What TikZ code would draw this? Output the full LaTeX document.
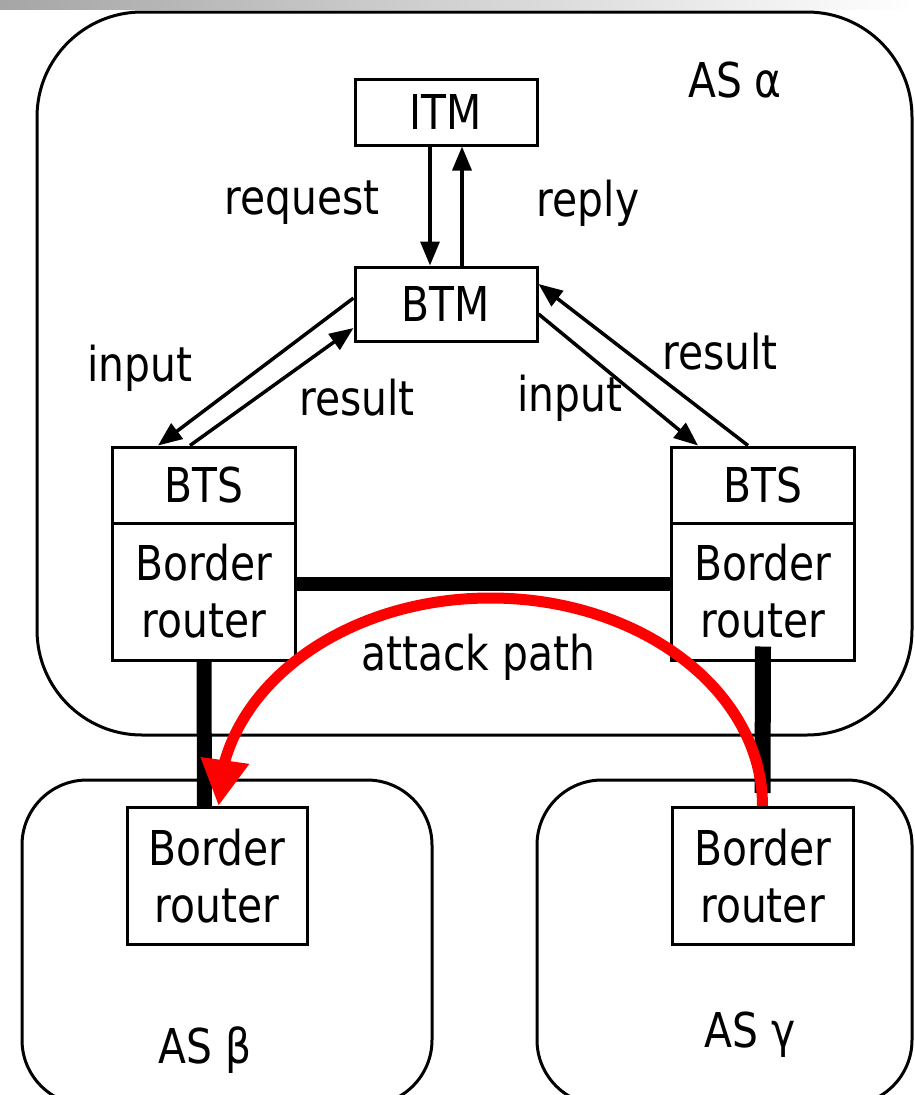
\documentclass[tikz,border=0pt]{standalone}
\usepackage{fontspec}
\setmainfont{DejaVu Sans}[FakeStretch=0.85]
\usetikzlibrary{arrows.meta,bending}
\begin{document}
\begin{tikzpicture}[x=1pt,y=-1pt,
  txt/.style={font=\fontsize{48}{57}\selectfont},
  box/.style={draw, line width=3pt, inner sep=0pt, txt, align=center},
  cont/.style={draw, line width=3pt, inner sep=0pt},
  lbl/.style={inner sep=0pt, txt},
  arr/.style={line width=3.5pt, -{Triangle[length=24pt,width=19pt]}},
  link/.style={line width=14pt},
  attack/.style={draw=red, line width=11pt, -{Triangle[length=46pt,width=46pt,fill=red,flex]}}]
\useasboundingbox (0,0) rectangle (915,1095);
\clip (0,0) rectangle (915,1095);
\shade[left color=black!35, right color=white] (0,0) rectangle (915,9);
% containers
\node[cont, rounded corners=105pt, minimum width=875pt, minimum height=723pt] (asA) at (474.5,373.5) {};
\node[cont, rounded corners=65pt, minimum width=410pt, minimum height=325pt] (asB) at (227,942.5) {};
\node[cont, rounded corners=65pt, minimum width=375pt, minimum height=325pt] (asG) at (724.5,942.5) {};
% boxes
\node[box, minimum width=182pt, minimum height=66pt] (itm) at (446,112) {ITM};
\node[box, minimum width=182pt, minimum height=74pt] (btm) at (446,304) {BTM};
\node[box, minimum width=183pt, minimum height=76pt] (btsL) at (204,485) {BTS};
\node[box, minimum width=183pt, minimum height=137pt] (brL) at (204,591.5) {Border\\router};
\node[box, minimum width=183pt, minimum height=76pt] (btsR) at (763,485) {BTS};
\node[box, minimum width=183pt, minimum height=137pt] (brR) at (763,591.5) {Border\\router};
\node[box, minimum width=180pt, minimum height=137pt] (rbeta) at (217,876) {Border\\router};
\node[box, minimum width=181pt, minimum height=137pt] (rgam) at (762.5,876) {Border\\router};
% labels
\node[lbl] (lA) at (735,80) {AS α};
\node[lbl] (lB) at (205,1050) {AS β};
\node[lbl] (lG) at (750,1035) {AS γ};
\node[lbl] (lreq) at (302,203) {request};
\node[lbl] (lrep) at (588,203) {reply};
\node[lbl] (linL) at (140,368) {input};
\node[lbl] (lresL) at (357,398) {result};
\node[lbl] (linR) at (570,398) {input};
\node[lbl] (lresR) at (720,352) {result};
\node[lbl] (latt) at (478,657) {attack path};
% arrows
\draw[arr] ([xshift=-16pt]itm.south) -- ([xshift=-16pt]btm.north);
\draw[arr] ([xshift=16pt]btm.north) -- ([xshift=16pt]itm.south);
\draw[arr] ([yshift=6pt]btm.west) -- ([xshift=-46pt]btsL.north);
\draw[arr] ([xshift=-14pt]btsL.north) -- ([yshift=-24pt]btm.west);
\draw[arr] ([yshift=-10pt]btm.east) -- ([xshift=-65pt]btsR.north);
\draw[arr] ([xshift=-15pt]btsR.north) -- ([yshift=20pt]btm.east);
% links
\draw[link] ([yshift=8pt]brL.east) -- ([yshift=8pt]brR.west);
\draw[link, line width=15pt] (brL.south) -- ([xshift=-12.5pt]rbeta.north);
\draw[link, line width=16pt] ([yshift=15pt]brR.south) -- ([yshift=13pt]rgam.north);
% attack path
\draw[attack] (rgam.north) arc[start angle=0, end angle=-180, x radius=272, y radius=208];
\end{tikzpicture}
\end{document}
